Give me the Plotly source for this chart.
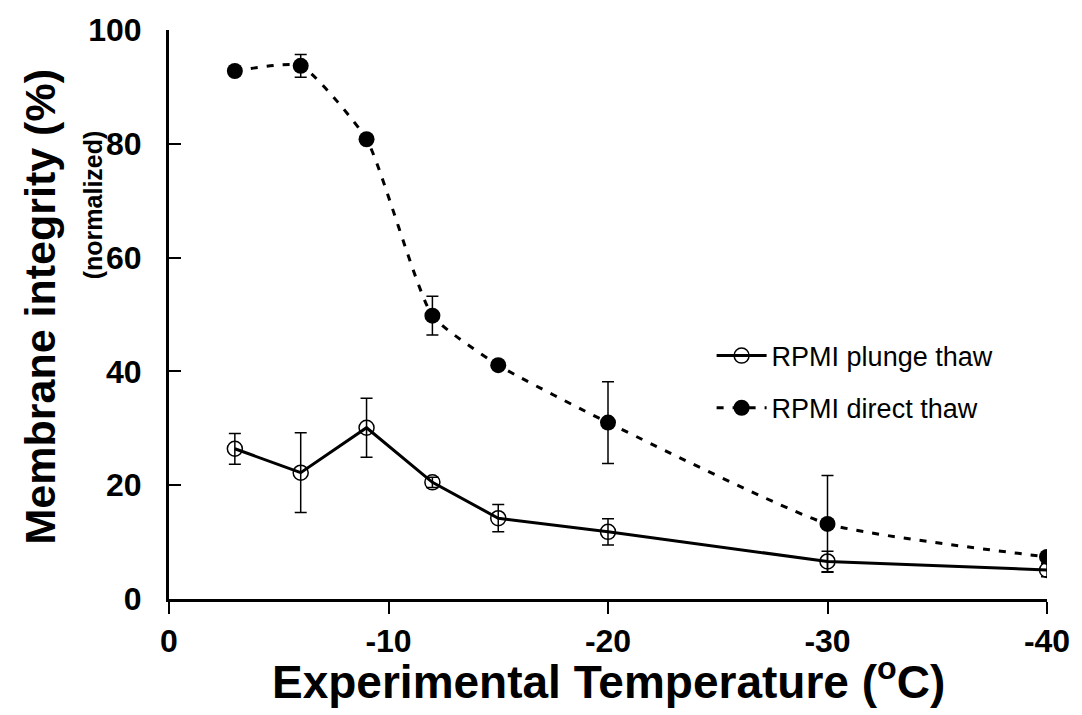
import plotly.graph_objects as go

# Experimental temperatures (°C)
temps = [-3, -6, -9, -12, -15, -20, -30, -40]

# RPMI plunge thaw: mean membrane integrity and error
plunge_mean = [26.4, 22.2, 30.1, 20.5, 14.2, 11.8, 6.6, 5.1]
plunge_err = [2.7, 7.0, 5.2, 0.9, 2.4, 2.3, 1.8, 1.2]

# RPMI direct thaw: mean membrane integrity and error
direct_mean = [92.8, 93.7, 80.8, 49.8, 41.1, 31.0, 13.2, 7.4]
direct_err = [0.0, 2.0, 0.0, 3.4, 0.0, 7.2, 8.5, 0.0]

x_ticks = [0, -10, -20, -30, -40]
y_ticks = [0, 20, 40, 60, 80, 100]

FONT = "Liberation Sans, Arial, sans-serif"

fig = go.Figure()

fig.add_trace(go.Scatter(
    x=temps, y=plunge_mean, name="RPMI plunge thaw",
    legendgroup="a",
    mode="lines+markers",
    line=dict(color="black", width=3),
    marker=dict(symbol="circle-open", size=15, color="black",
                line=dict(width=1.5, color="black")),
    error_y=dict(type="data", array=plunge_err, visible=True,
                 color="black", thickness=1.5, width=6),
))

fig.add_trace(go.Scatter(
    x=temps, y=direct_mean, name="RPMI direct thaw",
    legendgroup="b",
    mode="lines+markers",
    line=dict(color="black", width=3, dash="7px,9px", shape="spline", smoothing=0.5),
    marker=dict(symbol="circle", size=16, color="black"),
    error_y=dict(type="data", array=direct_err, visible=True,
                 color="black", thickness=1.5, width=6),
))

fig.update_layout(
    width=1082, height=715,
    margin=dict(l=169, r=33, t=23, b=116),
    paper_bgcolor="white", plot_bgcolor="white",
    font=dict(family=FONT, color="black"),
    showlegend=True,
    legend=dict(
        x=0.618, y=0.47, xanchor="left", yanchor="top",
        font=dict(size=27, family=FONT, color="black"),
        itemwidth=50, tracegroupgap=14, traceorder="grouped",
        bgcolor="rgba(0,0,0,0)",
    ),
    xaxis=dict(
        range=[0, -40], tickvals=x_ticks, ticktext=[str(v) for v in x_ticks],
        showline=True, linecolor="black", linewidth=3,
        ticks="outside", ticklen=12, tickwidth=2, tickcolor="black",
        showgrid=False, zeroline=False,
        tickfont=dict(size=32, family=FONT, color="black", weight="bold"),
        ticklabelstandoff=0,
    ),
    yaxis=dict(
        range=[0, 100], tickvals=y_ticks,
        ticktext=[str(v) for v in y_ticks],
        showline=True, linecolor="black", linewidth=3,
        ticks="inside", ticklen=12, tickwidth=2, tickcolor="black",
        showgrid=False, zeroline=False,
        tickfont=dict(size=32, family=FONT, color="black", weight="bold"),
        ticklabelstandoff=18,
    ),
    annotations=[
        dict(text="Experimental Temperature (<sup>o</sup>C)",
             xref="paper", yref="paper", x=0.501, y=-0.14,
             xanchor="center", yanchor="middle", showarrow=False,
             font=dict(size=46, family=FONT, color="black", weight="bold")),
        dict(text="Membrane integrity (%)",
             xref="paper", yref="paper", x=-0.147, y=0.514,
             xanchor="center", yanchor="middle", showarrow=False, textangle=-90,
             font=dict(size=43, family=FONT, color="black", weight="bold")),
        dict(text="(normalized)",
             xref="paper", yref="paper", x=-0.087, y=0.693,
             xanchor="center", yanchor="middle", showarrow=False, textangle=-90,
             font=dict(size=25, family=FONT, color="black", weight="bold")),
    ],
)

fig.write_html("out.html")
